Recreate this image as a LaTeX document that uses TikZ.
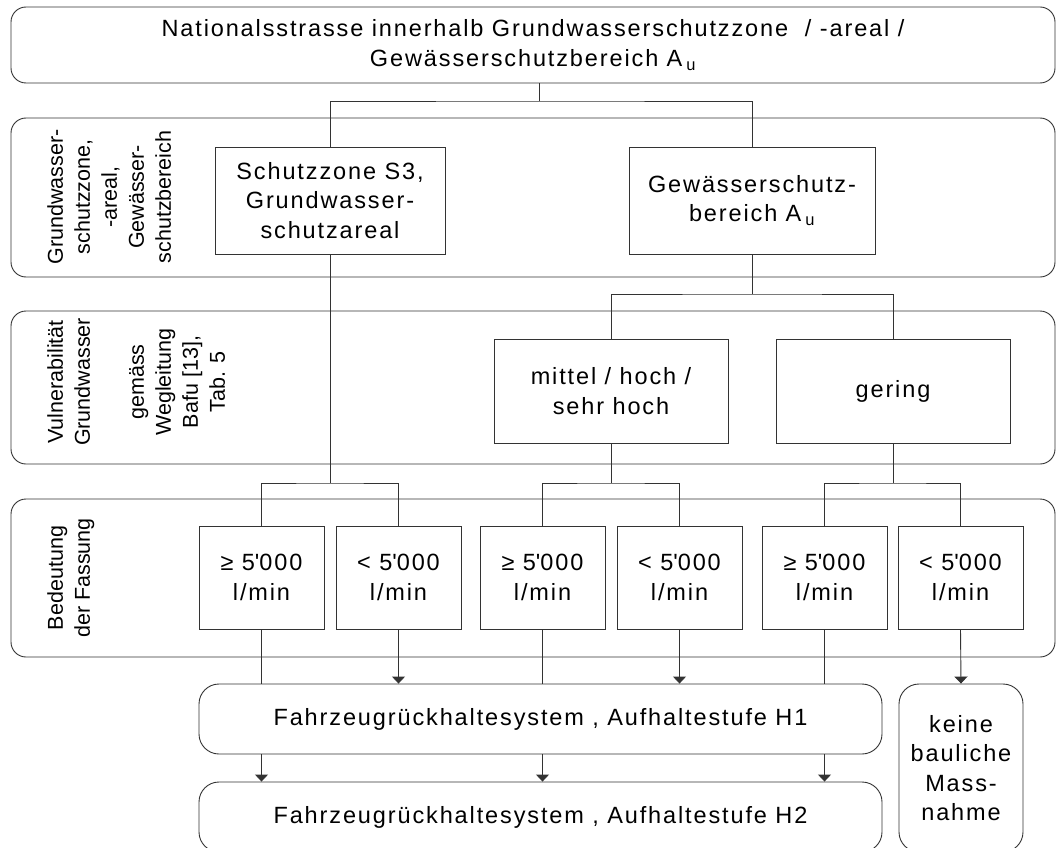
\documentclass[tikz,border=0pt]{standalone}
\usepackage{fontspec}
\setmainfont{Liberation Sans}
\newfontfamily\spaced{Liberation Sans}[LetterSpace=8]
\usetikzlibrary{arrows.meta, positioning}
\tikzstyle{Band}=[draw=black!80, line width=0.9pt, rounded corners=15pt]
\tikzstyle{Box}=[draw=black!80, line width=0.9pt, align=center, inner sep=0pt, font=\spaced\fontsize{23.5}{29.5}\selectfont]
\tikzstyle{Result}=[Box, rounded corners=20pt]
\tikzstyle{Side}=[rotate=90, anchor=north, align=center, inner sep=0pt, font=\fontsize{21.5}{27}\selectfont]
\tikzstyle{Line}=[draw=black!80, line width=0.9pt]
\tikzstyle{Arrow}=[Line, -{Triangle[width=13pt,length=7pt]}]

\begin{document}
\begin{tikzpicture}[x=1pt, y=-1pt]
			\useasboundingbox (0,0) rectangle (1057,848);
			\clip (0,0) rectangle (1057,848);
			\fill[white] (0,0) rectangle (1057,848);
			% bands
			\node[Band, Box, rounded corners=15pt, minimum width=1044pt, minimum height=76pt] (title) at (533,45)
				{Nationalsstrasse innerhalb Grundwasserschutzzone~ / -areal /\\Gewässerschutzbereich A\,\textsubscript{u}};
			\draw[Band] (11,118) rectangle (1055,277);
			\draw[Band] (11,311) rectangle (1055,464);
			\draw[Band] (11,499) rectangle (1055,657);
			\node[Side] (lblA) at (47,197) {Grundwasser-\\schutzzone,\\-areal,\\Gewässer-\\schutzbereich};
			\node[Side] (lblB) at (47,382) {Vulnerabilität\\Grundwasser\\[27pt]gemäss\\Wegleitung\\Bafu [13],\\Tab. 5};
			\node[Side] (lblC) at (47,578) {Bedeutung\\der Fassung};

			\node[Box, minimum width=230pt, minimum height=107pt] (sz) at (330,200.5) {Schutzzone S3,\\Grundwasser-\\schutzareal};
			\node[Box, minimum width=246pt, minimum height=107pt] (gw) at (752,200.5) {Gewässerschutz-\\bereich A\,\textsubscript{u}};
			\node[Box, minimum width=234pt, minimum height=104pt] (mittel) at (611,391) {mittel / hoch /\\sehr hoch};
			\node[Box, minimum width=234pt, minimum height=104pt] (gering) at (893,391) {gering};
			\foreach \n/\x/\t in {b1/261.5/≥ 5\textquotesingle000, b2/398.5/< 5\textquotesingle000,
					b3/542.5/≥ 5\textquotesingle000, b4/679.5/< 5\textquotesingle000,
					b5/824.5/≥ 5\textquotesingle000, b6/960.5/< 5\textquotesingle000}
				\node[Box, minimum width=125pt, minimum height=103pt] (\n) at (\x,577.5) {\t\\l/min};
			\node[Result, minimum width=683pt, minimum height=70pt] (h1) at (540.5,719) {Fahrzeugrückhaltesystem , Aufhaltestufe H1};
			\node[Result, minimum width=683pt, minimum height=70pt] (h2) at (540.5,817) {Fahrzeugrückhaltesystem , Aufhaltestufe H2};
			\node[Result, minimum width=124pt, minimum height=168pt] (keine) at (961,768) {keine\\bauliche\\Mass-\\nahme};

			% connectors
			\coordinate (t0) at (539,101);
			\coordinate (t1) at (752,294);
			\coordinate (t2) at (330,483);
			\coordinate (t3) at (611,483);
			\coordinate (t4) at (893,483);
			\draw[Line] (title.south -| t0) -- (t0);
			\draw[Line] (sz.north) |- (t0) -| (gw.north);
			\draw[Line] (gw.south) -- (t1);
			\draw[Line] (mittel.north) |- (t1) -| (gering.north);
			\draw[Line] (sz.south) -- (t2);
			\draw[Line] (b1.north) |- (t2) -| (b2.north);
			\draw[Line] (mittel.south) -- (t3);
			\draw[Line] (b3.north) |- (t3) -| (b4.north);
			\draw[Line] (gering.south) -- (t4);
			\draw[Line] (b5.north) |- (t4) -| (b6.north);
			\foreach \n in {b1, b3, b5} {
				\draw[Line] (\n.south) -- (\n.south |- h1.north);
				\draw[Arrow] (\n.south |- h1.south) -- (\n.south |- h2.north);
			}
			\draw[Arrow] (b2.south) -- (b2.south |- h1.north);
			\draw[Arrow] (b4.south) -- (b4.south |- h1.north);
			\draw[Arrow] (b6.south) -- (keine.north);
		\end{tikzpicture}
\end{document}
